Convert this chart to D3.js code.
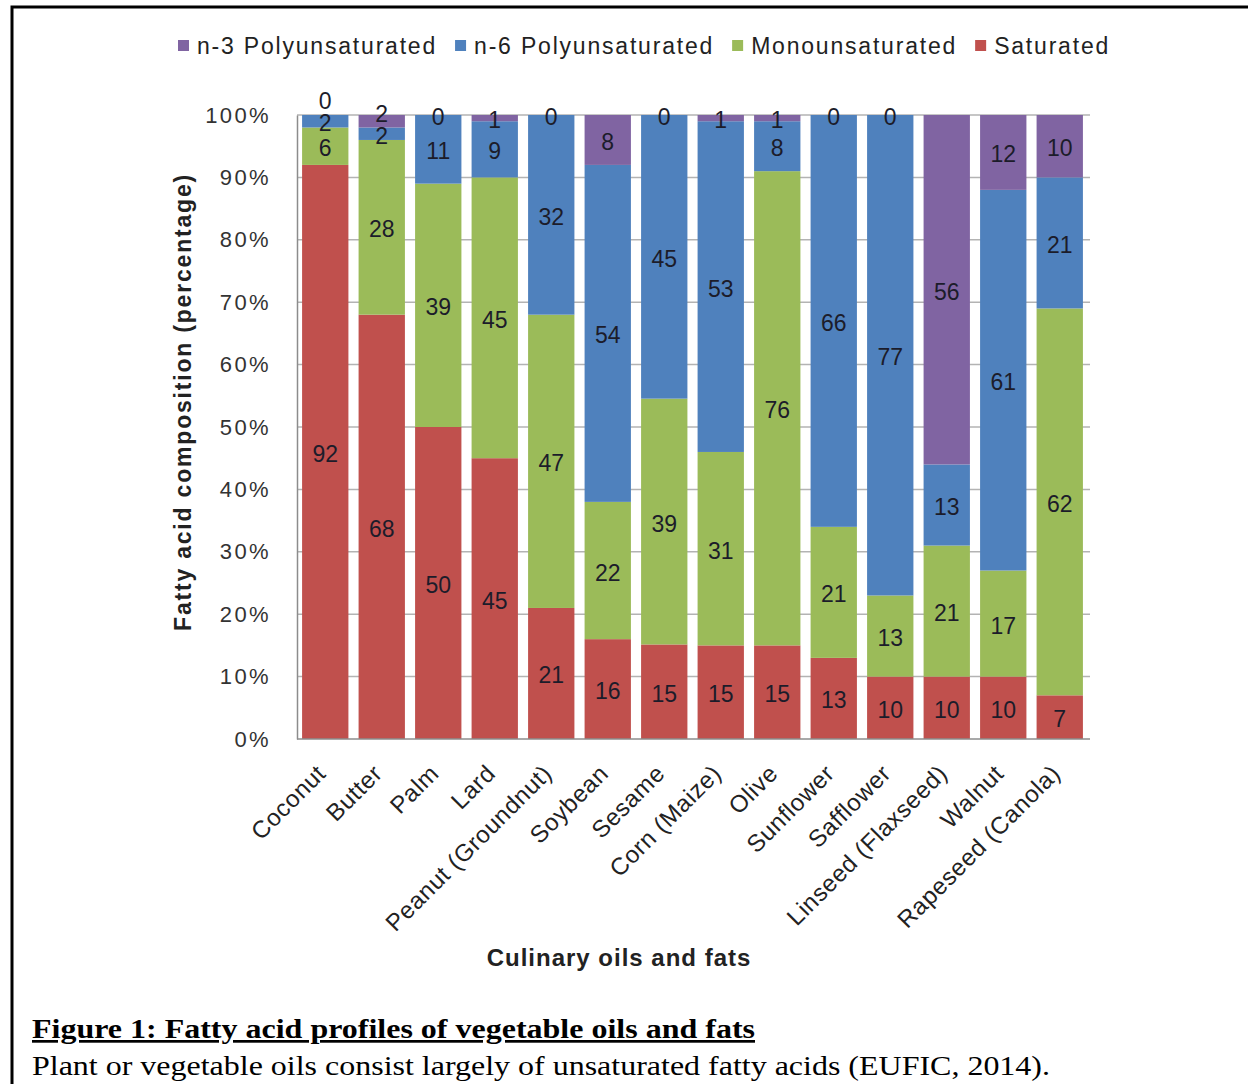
<!DOCTYPE html>
<html>
<head>
<meta charset="utf-8">
<script src="https://cdn.jsdelivr.net/npm/d3@7"></script>
<style>
  body { margin: 0; background: #fff; }
  svg text { font-family: Arial, "Liberation Sans", sans-serif; }
  svg text.caption { font-family: "Liberation Serif", "Times New Roman", serif; }
</style>
</head>
<body>
<svg id="chart" width="1248" height="1084"></svg>
<script>
// Data
const oils = ['Coconut', 'Butter', 'Palm', 'Lard', 'Peanut (Groundnut)', 'Soybean', 'Sesame',
  'Corn (Maize)', 'Olive', 'Sunflower', 'Safflower', 'Linseed (Flaxseed)', 'Walnut', 'Rapeseed (Canola)'];
const saturated = [92, 68, 50, 45, 21, 16, 15, 15, 15, 13, 10, 10, 10, 7];
const monounsaturated = [6, 28, 39, 45, 47, 22, 39, 31, 76, 21, 13, 21, 17, 62];
const n6Poly = [2, 2, 11, 9, 32, 54, 45, 53, 8, 66, 77, 13, 61, 21];
const n3Poly = [0, 2, 0, 1, 0, 8, 0, 1, 1, 0, 0, 56, 12, 10];
const yTicks = [0, 0.1, 0.2, 0.3, 0.4, 0.5, 0.6, 0.7, 0.8, 0.9, 1];

// stacking order bottom -> top
const series = [
  { name: 'Saturated', values: saturated, color: '#C0504D' },
  { name: 'Monounsaturated', values: monounsaturated, color: '#9BBB59' },
  { name: 'n-6 Polyunsaturated', values: n6Poly, color: '#4F81BD' },
  { name: 'n-3 Polyunsaturated', values: n3Poly, color: '#8064A2' }
];
const legendOrder = [3, 2, 1, 0];

const svg = d3.select('#chart');
const plot = { left: 297, right: 1088, top: 115, bottom: 739 };

// figure frame (only top and left visible in the crop)
svg.append('path')
  .attr('d', 'M12,1084 L12,7 L1248,7')
  .attr('fill', 'none')
  .attr('stroke', '#000')
  .attr('stroke-width', 3);

const x = d3.scaleBand()
  .domain(oils)
  .range([plot.left, plot.right])
  .paddingInner(0.18)
  .paddingOuter(0.09);

const y = d3.scaleLinear()
  .domain([0, 1])
  .range([plot.bottom, plot.top]);

// gridlines
svg.append('g')
  .selectAll('line')
  .data(yTicks.slice(1))
  .join('line')
  .attr('x1', plot.left)
  .attr('x2', plot.right + 2)
  .attr('y1', d => y(d))
  .attr('y2', d => y(d))
  .attr('stroke', '#b3b3b3')
  .attr('stroke-width', 1.5);

// y axis
const yAxis = svg.append('g')
  .attr('transform', `translate(${plot.left},0)`)
  .call(d3.axisLeft(y).tickValues(yTicks).tickFormat(d3.format('.0%')).tickSize(0).tickPadding(26));
yAxis.select('.domain').attr('stroke', '#8c8c8c').attr('stroke-width', 1.5);
yAxis.selectAll('text')
  .attr('font-size', 22)
  .attr('letter-spacing', 2.4)
  .attr('fill', '#333');

// stacked, normalised
const rows = oils.map((oil, i) => {
  const row = { oil };
  series.forEach(s => { row[s.name] = s.values[i]; });
  return row;
});
const stack = d3.stack()
  .keys(series.map(s => s.name))
  .offset(d3.stackOffsetExpand);
const stacked = stack(rows);

const bars = svg.append('g');
stacked.forEach((layer, si) => {
  bars.append('g')
    .attr('fill', series[si].color)
    .selectAll('rect')
    .data(layer)
    .join('rect')
    .attr('x', d => x(d.data.oil))
    .attr('width', x.bandwidth())
    .attr('y', d => y(d[1]))
    .attr('height', d => y(d[0]) - y(d[1]));
});

// x axis line
svg.append('line')
  .attr('x1', plot.left)
  .attr('x2', plot.right + 2)
  .attr('y1', plot.bottom)
  .attr('y2', plot.bottom)
  .attr('stroke', '#8c8c8c')
  .attr('stroke-width', 1.5);

// data labels: centred in segment, nudged up when they collide
const labels = svg.append('g')
  .attr('font-size', 23)
  .attr('fill', '#1c1c2a')
  .attr('text-anchor', 'middle');
oils.forEach((oil, i) => {
  let prevY = Infinity;
  stacked.forEach((layer, si) => {
    const d = layer[i];
    let ly = y((d[0] + d[1]) / 2);
    if (ly > prevY - 22) ly = prevY - 22;
    prevY = ly;
    labels.append('text')
      .attr('x', x(oil) + x.bandwidth() / 2)
      .attr('y', ly + 2)
      .attr('dominant-baseline', 'central')
      .text(series[si].values[i]);
  });
});

// x tick labels
svg.append('g')
  .selectAll('text')
  .data(oils)
  .join('text')
  .attr('transform', d => `translate(${x(d) + x.bandwidth() / 2 + 2},${plot.bottom + 36}) rotate(-45)`)
  .attr('text-anchor', 'end')
  .attr('font-size', 24)
  .attr('letter-spacing', 0.6)
  .attr('fill', '#222')
  .text(d => d);

// axis titles
svg.append('text')
  .attr('transform', `translate(191,${(plot.top + plot.bottom) / 2 - 25}) rotate(-90)`)
  .attr('text-anchor', 'middle')
  .attr('font-size', 23)
  .attr('font-weight', 'bold')
  .attr('letter-spacing', 1.8)
  .attr('fill', '#222')
  .text('Fatty acid composition  (percentage)');

svg.append('text')
  .attr('x', 619)
  .attr('y', 966)
  .attr('text-anchor', 'middle')
  .attr('font-size', 24)
  .attr('font-weight', 'bold')
  .attr('letter-spacing', 1)
  .attr('fill', '#222')
  .text('Culinary oils and fats');

// legend
const legend = svg.append('g').attr('font-size', 23).attr('fill', '#222');
let lx = 178;
legendOrder.forEach(si => {
  const s = series[si];
  legend.append('rect')
    .attr('x', lx)
    .attr('y', 40)
    .attr('width', 11)
    .attr('height', 11)
    .attr('fill', s.color);
  const t = legend.append('text')
    .attr('x', lx + 19)
    .attr('y', 54)
    .attr('letter-spacing', 1.8)
    .text(s.name);
  lx += 19 + t.node().getComputedTextLength() + 18;
});

// caption (glyphs in the source are stretched wide)
svg.append('text')
  .attr('class', 'caption')
  .attr('x', 32)
  .attr('y', 1038)
  .attr('font-size', 27)
  .attr('font-weight', 'bold')
  .attr('textLength', 723)
  .attr('lengthAdjust', 'spacingAndGlyphs')
  .attr('text-decoration', 'underline')
  .text('Figure 1: Fatty acid profiles of vegetable oils and fats');

svg.append('text')
  .attr('class', 'caption')
  .attr('x', 32)
  .attr('y', 1075)
  .attr('font-size', 27)
  .attr('textLength', 1018)
  .attr('lengthAdjust', 'spacingAndGlyphs')
  .text('Plant or vegetable oils consist largely of unsaturated fatty acids (EUFIC, 2014).');
</script>
</body>
</html>
